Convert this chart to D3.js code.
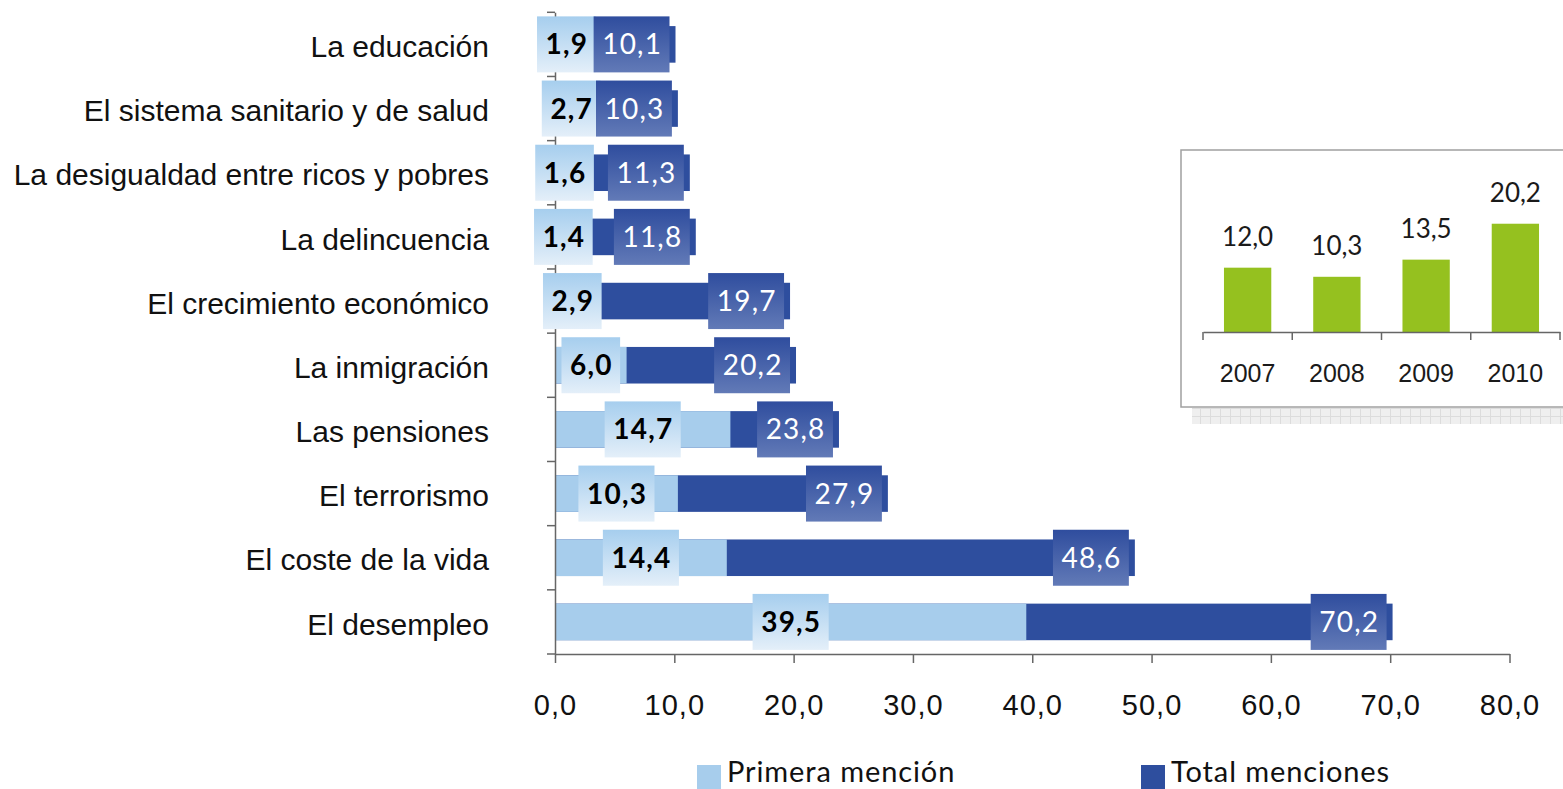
<!DOCTYPE html>
<html>
<head>
<meta charset="utf-8">
<script src="https://cdn.jsdelivr.net/npm/d3@7"></script>
<style>
  body { margin: 0; background: #fff; }
  svg { display: block; font-family: Lato, "Open Sans", sans-serif; }
</style>
</head>
<body>
<svg id="chart" width="1563" height="789"></svg>
<script>
// data
const categories = ["La educación", "El sistema sanitario y de salud", "La desigualdad entre ricos y pobres",
  "La delincuencia", "El crecimiento económico", "La inmigración", "Las pensiones", "El terrorismo",
  "El coste de la vida", "El desempleo"];
const primera = [1.9, 2.7, 1.6, 1.4, 2.9, 6.0, 14.7, 10.3, 14.4, 39.5];
const total = [10.1, 10.3, 11.3, 11.8, 19.7, 20.2, 23.8, 27.9, 48.6, 70.2];
const xTicks = [0, 10, 20, 30, 40, 50, 60, 70, 80];

const years = ["2007", "2008", "2009", "2010"];
const yearValues = [12.0, 10.3, 13.5, 20.2];

const legendItems = ["Primera mención", "Total menciones"];

const lightBlue = "#a7cdec", darkBlue = "#2e4e9e", green = "#95c11f";
const fmt = d => d.toFixed(1).replace(".", ",");

const svg = d3.select("#chart");
const defs = svg.append("defs");

const gLight = defs.append("linearGradient").attr("id", "gLight").attr("x1", 0).attr("y1", 0).attr("x2", 0).attr("y2", 1);
gLight.append("stop").attr("offset", "0%").attr("stop-color", "#a6ceee");
gLight.append("stop").attr("offset", "100%").attr("stop-color", "#e4eff9");
const gDark = defs.append("linearGradient").attr("id", "gDark").attr("x1", 0).attr("y1", 0).attr("x2", 0).attr("y2", 1);
gDark.append("stop").attr("offset", "0%").attr("stop-color", "#2f4d9e");
gDark.append("stop").attr("offset", "100%").attr("stop-color", "#627ab7");

const hatch = defs.append("pattern").attr("id", "hatch").attr("width", 10).attr("height", 8)
  .attr("patternUnits", "userSpaceOnUse");
hatch.append("rect").attr("width", 10).attr("height", 8).attr("fill", "#efefef");
hatch.append("path").attr("d", "M0,0.5H10M0.5,0V8").attr("stroke", "#dcdcdc").attr("stroke-width", 1);

// main chart scales
const x = d3.scaleLinear().domain([0, 80]).range([555, 1509.5]);
const y = d3.scaleBand().domain(categories).range([12.3, 654]).paddingInner(0.43).paddingOuter(0.215);
const step = y.step();

// bars
svg.append("g").selectAll("rect").data(categories).join("rect")
  .attr("x", x(0)).attr("y", d => y(d))
  .attr("width", (d, i) => x(total[i]) - x(0)).attr("height", y.bandwidth())
  .attr("fill", darkBlue);
svg.append("g").selectAll("rect").data(categories).join("rect")
  .attr("x", x(0)).attr("y", d => y(d))
  .attr("width", (d, i) => x(primera[i]) - x(0)).attr("height", y.bandwidth())
  .attr("fill", lightBlue);

// x axis
const xAxis = svg.append("g").attr("transform", "translate(0,654)")
  .call(d3.axisBottom(x).tickValues(xTicks).tickFormat(fmt).tickSize(9).tickPadding(31).tickSizeOuter(0));
xAxis.select(".domain").attr("stroke", "#666").attr("stroke-width", 1.5);
xAxis.selectAll(".tick line").attr("stroke", "#666").attr("stroke-width", 1.5);
xAxis.selectAll("text").attr("font-size", 29).attr("letter-spacing", 1).attr("fill", "#111");

// y axis: labels + boundary ticks
const yAxis = svg.append("g").attr("transform", "translate(555,0)")
  .call(d3.axisLeft(y).tickSize(0).tickPadding(66).tickSizeOuter(0));
yAxis.select(".domain").attr("stroke", "#666").attr("stroke-width", 1.5);
yAxis.selectAll("text").attr("font-size", 30).attr("fill", "#111").attr("dy", "0.42em");
const bounds = categories.map(c => y(c) - y.paddingOuter() * step).concat([654]);
yAxis.append("g").selectAll("line").data(bounds).join("line")
  .attr("x1", -8).attr("x2", 0).attr("y1", d => d).attr("y2", d => d)
  .attr("stroke", "#666").attr("stroke-width", 1.5);

// data labels
const boxH = 56;
function addLabel(g, text, fill, color, weight, placeBox) {
  const grp = g.append("g");
  const rect = grp.append("rect").attr("fill", fill);
  const t = grp.append("text").text(text).attr("font-size", 28).attr("font-weight", weight)
    .attr("letter-spacing", 1.2).attr("fill", color).attr("text-anchor", "middle");
  const w = t.node().getComputedTextLength() + 16;
  const b = placeBox(w);
  rect.attr("x", b.x).attr("y", b.y).attr("width", w).attr("height", boxH);
  t.attr("x", b.x + w / 2 + 0.6).attr("y", b.y + boxH / 2).attr("dy", "0.36em");
}
const labels = svg.append("g");
categories.forEach((c, i) => {
  const cy = y(c) + y.bandwidth() / 2;
  addLabel(labels, fmt(primera[i]), "url(#gLight)", "#000", "bold",
    w => ({ x: x(primera[i] / 2) - w / 2, y: cy - boxH / 2 }));
  addLabel(labels, fmt(total[i]), "url(#gDark)", "#fff", "normal",
    w => ({ x: x(total[i]) - 6 - w, y: cy - boxH / 2 }));
});

// inset
const inset = svg.append("g");
inset.append("rect").attr("x", 1192).attr("y", 408).attr("width", 380).attr("height", 16).attr("fill", "url(#hatch)");
inset.append("rect").attr("x", 1181).attr("y", 150).attr("width", 400).attr("height", 257)
  .attr("fill", "#fff").attr("stroke", "#a0a0a0").attr("stroke-width", 1.5);

const xi = d3.scaleBand().domain(years).range([1203, 1560]).paddingInner(0.47).paddingOuter(0.235);
const yi = d3.scaleLinear().domain([0, 25]).range([332, 198]);

inset.append("g").selectAll("rect").data(years).join("rect")
  .attr("x", d => xi(d)).attr("width", xi.bandwidth())
  .attr("y", (d, i) => yi(yearValues[i])).attr("height", (d, i) => yi(0) - yi(yearValues[i]))
  .attr("fill", green);
inset.append("g").selectAll("text").data(years).join("text")
  .attr("x", d => xi(d) + xi.bandwidth() / 2).attr("y", (d, i) => yi(yearValues[i]) - 22)
  .attr("text-anchor", "middle").attr("font-size", 26).attr("fill", "#1a1a1a")
  .text((d, i) => fmt(yearValues[i]));

const xiAxis = inset.append("g").attr("transform", "translate(0,332)")
  .call(d3.axisBottom(xi).tickSize(0).tickPadding(32).tickSizeOuter(0));
xiAxis.select(".domain").attr("stroke", "#666").attr("stroke-width", 1.5);
xiAxis.selectAll("text").attr("font-size", 25).attr("fill", "#1a1a1a");
const ib = years.map(d => xi(d) - xi.paddingInner() * xi.step() / 2);
ib[0] = 1203;
ib.push(1560);
xiAxis.append("g").selectAll("line").data(ib).join("line")
  .attr("x1", d => d).attr("x2", d => d).attr("y1", 0).attr("y2", 8)
  .attr("stroke", "#666").attr("stroke-width", 1.5);

// legend
const legend = svg.append("g");
const legendX = [697, 1141];
legendItems.forEach((name, i) => {
  legend.append("rect").attr("x", legendX[i]).attr("y", 765).attr("width", 24).attr("height", 24)
    .attr("fill", i === 0 ? lightBlue : darkBlue);
  legend.append("text").attr("x", legendX[i] + 30).attr("y", 782).attr("font-size", 29)
    .attr("letter-spacing", 0.9).attr("fill", "#111").text(name);
});
</script>
</body>
</html>
